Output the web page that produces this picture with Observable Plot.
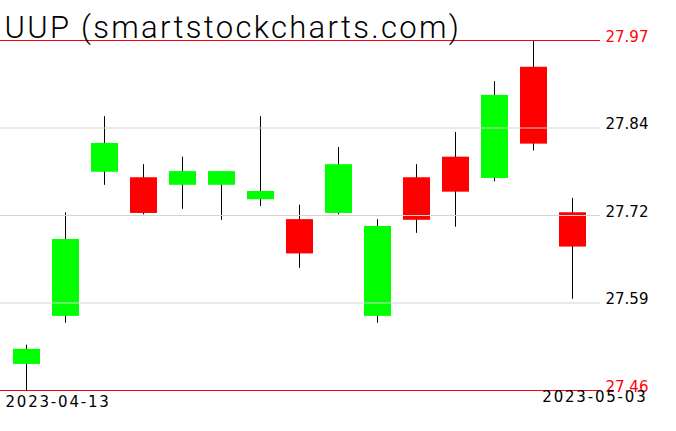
<!DOCTYPE html>
<html>
<head>
<meta charset="utf-8">
<script src="https://cdn.jsdelivr.net/npm/d3@7"></script>
<script src="https://cdn.jsdelivr.net/npm/@observablehq/plot@0.6"></script>
<style>
  html, body { margin: 0; padding: 0; background: white; }
</style>
</head>
<body>
<div id="chart"></div>
<script>
const dates = ["2023-04-13","2023-04-14","2023-04-17","2023-04-18","2023-04-19","2023-04-20","2023-04-21",
               "2023-04-24","2023-04-25","2023-04-26","2023-04-27","2023-04-28","2023-05-01","2023-05-02","2023-05-03"];
const open  = [27.498, 27.568, 27.778, 27.770, 27.759, 27.759, 27.738, 27.709, 27.718, 27.568, 27.770, 27.800, 27.769, 27.931, 27.719];
const high  = [27.526, 27.719, 27.859, 27.789, 27.800, 27.779, 27.859, 27.730, 27.814, 27.709, 27.789, 27.836, 27.910, 27.970, 27.740];
const low   = [27.460, 27.558, 27.759, 27.716, 27.724, 27.708, 27.728, 27.638, 27.716, 27.558, 27.689, 27.698, 27.764, 27.809, 27.593];
const close = [27.520, 27.680, 27.820, 27.718, 27.779, 27.779, 27.750, 27.659, 27.789, 27.699, 27.708, 27.749, 27.890, 27.819, 27.669];

const tickValues = [27.46, 27.5875, 27.715, 27.8425, 27.97];
const tickLabels = ["27.46", "27.59", "27.72", "27.84", "27.97"];
const gridValues = [27.5875, 27.715, 27.8425];
const limitValues = [27.46, 27.97];
const title = "UUP (smartstockcharts.com)";
const firstDate = dates[0];
const lastDate = dates[dates.length - 1];

const data = dates.map((d, i) => ({date: d, open: open[i], high: high[i], low: low[i], close: close[i]}));

const chart = Plot.plot({
  width: 676,
  height: 431,
  marginLeft: 0,
  marginRight: 76,
  marginTop: 0,
  marginBottom: 0,
  x: {type: "band", domain: dates, range: [13, 586], paddingInner: 12 / 39, paddingOuter: 0, axis: null},
  y: {domain: [27.46, 27.97], range: [390, 40], axis: null},
  color: {type: "identity"},
  style: {background: "white", fontFamily: "DejaVu Sans", overflow: "visible"},
  marks: [
    Plot.ruleX(data, {x: "date", y1: "low", y2: "high", stroke: "black", strokeWidth: 1, dx: -0.5}),
    Plot.barY(data, {x: "date", y1: "open", y2: "close", fill: d => d.close >= d.open ? "#00ff00" : "#ff0000"}),
    Plot.ruleY(gridValues, {y: d => d, stroke: "#d3d3d3", strokeWidth: 1}),
    Plot.ruleY(limitValues, {y: d => d, stroke: "#ff0000", strokeWidth: 1}),
    Plot.text(tickValues, {
      y: d => d, text: (d, i) => tickLabels[i], frameAnchor: "right", textAnchor: "start",
      lineAnchor: "bottom", dx: 5, dy: 1, fontSize: 15,
      fill: (d, i) => (i === 0 || i === tickValues.length - 1) ? "#ff0000" : "black"
    }),
    Plot.text([title], {
      text: d => d, frameAnchor: "top-left", textAnchor: "start", lineAnchor: "bottom",
      dx: 4, dy: 37, fontSize: 31, fontWeight: 300, fontFamily: "Roboto", fill: "black"
    }),
    Plot.text([firstDate], {
      text: d => d, frameAnchor: "bottom-left", textAnchor: "start", lineAnchor: "bottom",
      dx: 5, dy: -25, fontSize: 15, fill: "black"
    }),
    Plot.text([lastDate], {
      text: d => d, frameAnchor: "bottom-right", textAnchor: "end", lineAnchor: "bottom",
      dx: 47, dy: -30, fontSize: 15, fill: "black"
    })
  ]
});

// letter spacing (styling only)
d3.select(chart).selectAll("text").each(function() {
  const t = this.textContent;
  if (t === title) d3.select(this).style("letter-spacing", "2.3px");
  else if (t === firstDate || t === lastDate) d3.select(this).style("letter-spacing", "1.8px");
});
document.getElementById("chart").appendChild(chart);
</script>
</body>
</html>
